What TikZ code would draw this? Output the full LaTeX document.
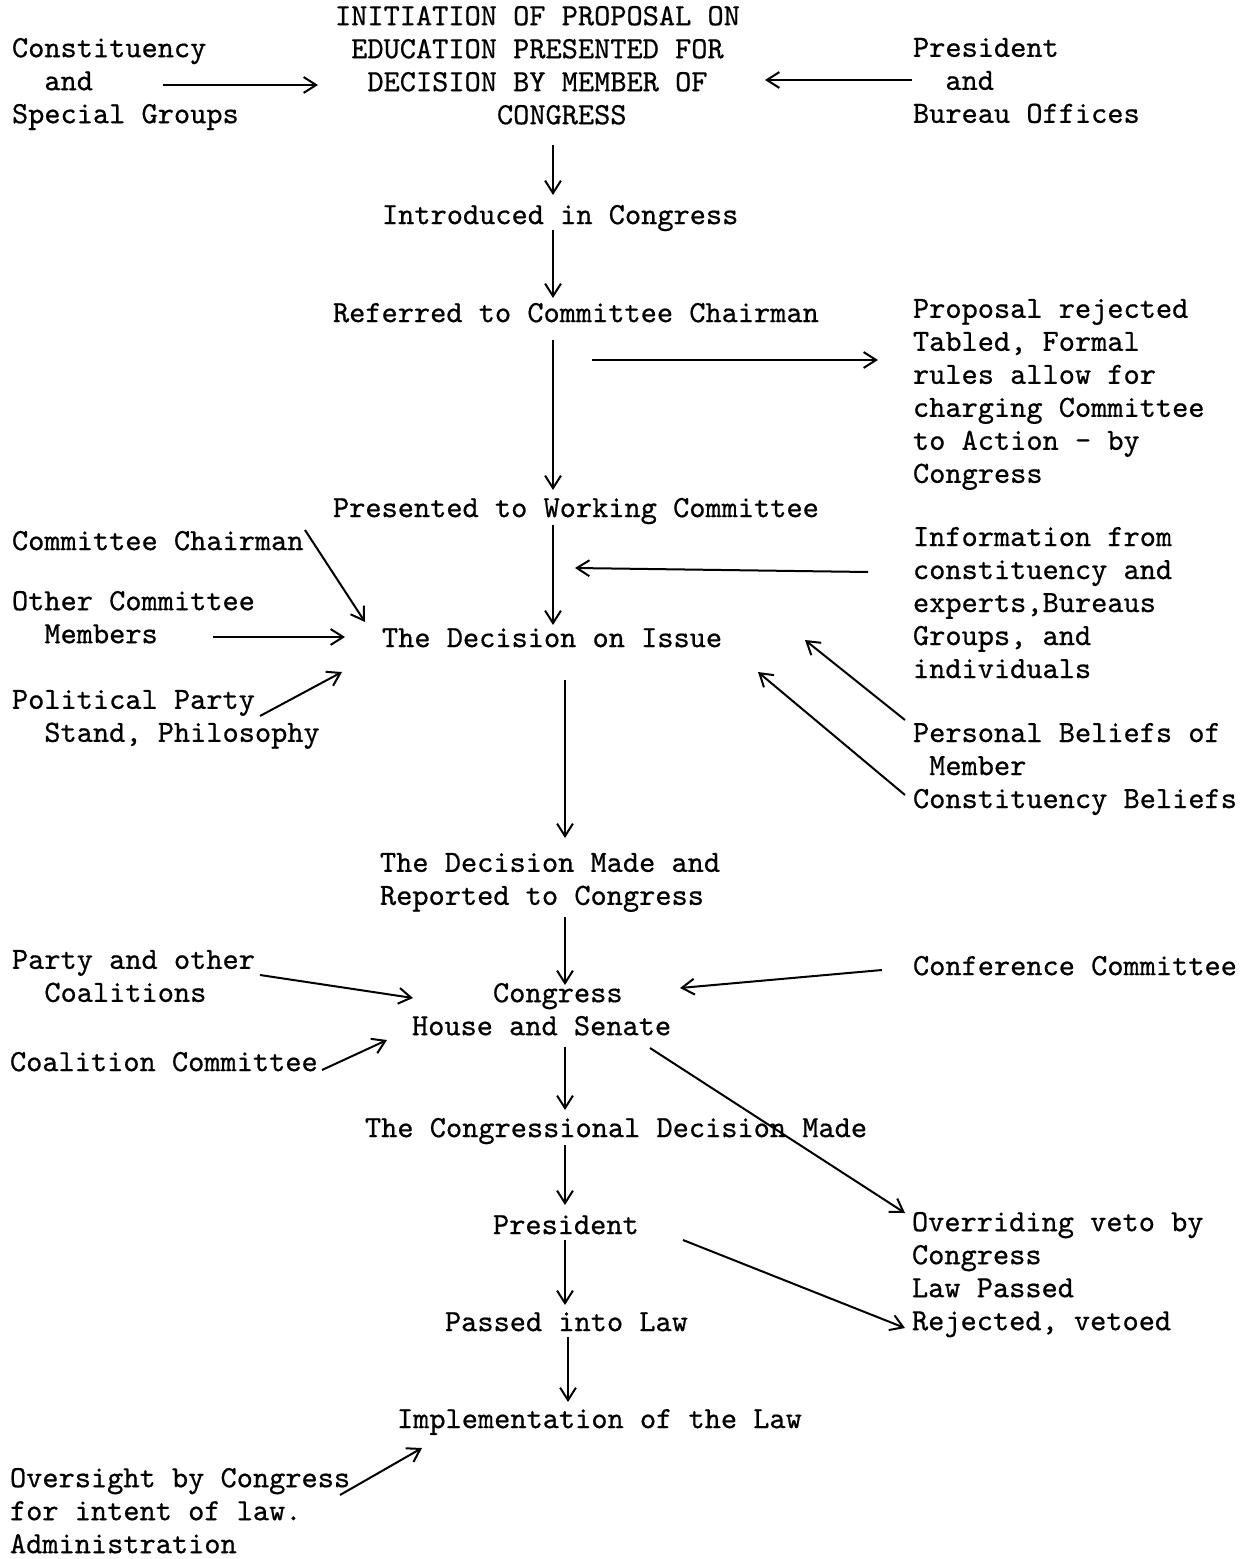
\documentclass[tikz,border=0pt]{standalone}
\usepackage{fontspec}
\usetikzlibrary{arrows.meta}
\newfontfamily\twf{lmmono10-regular.otf}[BoldFont=lmmono10-regular.otf, BoldFeatures={FakeBold=0.6}]
\newlength\cw
\setlength\cw{9.72pt}
\newcommand\ind[1]{\hspace*{#1\cw}}
\newcommand\tw{\twf\bfseries\fontsize{18.51}{19.8}\selectfont}
\begin{document}
\begin{tikzpicture}[x=0.6pt,y=-0.6pt,
  txt/.style={anchor=north west, inner sep=0pt, outer sep=0pt, align=left, font=\tw, yshift=8.4pt, execute at begin node=\strut},
  arr/.style={line width=1.2pt, -{Straight Barb[length=7.5pt,width=9.5pt,line width=1.2pt]}}]
\fill[white] (0,0) rectangle (1250,1559);
\useasboundingbox (0,0) rectangle (1250,1559);

% texts
\node[txt] (init) at (335,20) {INITIATION OF PROPOSAL ON\\\ind{1}EDUCATION PRESENTED FOR\\\ind{2}DECISION BY MEMBER OF\\\ind{10}CONGRESS};
\node[txt] (const) at (12,52) {Constituency\\\ind{2}and\\Special Groups};
\node[txt] (pres) at (913,52) {President\\\ind{2}and\\Bureau Offices};
\node[txt] (intro) at (382,215) {Introduced in Congress};
\node[txt] (refer) at (333,313) {Referred to Committee Chairman};
\node[txt] (rej) at (913,313) {Proposal rejected\\Tabled, Formal\\rules allow for\\charging Committee\\to Action - by\\Congress};
\node[txt] (work) at (333,508) {Presented to Working Committee};
\node[txt] (info) at (913,541) {Information from\\constituency and\\experts,Bureaus\\Groups, and\\individuals};
\node[txt] (chair) at (12,541) {Committee Chairman};
\node[txt] (other) at (12,605) {Other Committee\\\ind{2}Members};
\node[txt] (issue) at (382,638) {The Decision on Issue};
\node[txt] (party) at (12,704) {Political Party\\\ind{2}Stand, Philosophy};
\node[txt] (beliefs) at (913,737) {Personal Beliefs of\\\ind{1}Member\\Constituency Beliefs};
\node[txt] (made) at (380,867) {The Decision Made and\\Reported to Congress};
\node[txt] (coal) at (12,964) {Party and other\\\ind{2}Coalitions};
\node[txt] (conf) at (913,966) {Conference Committee};
\node[txt] (cong) at (412,997) {\ind{5}Congress\\House and Senate};
\node[txt] (ccom) at (10,1062) {Coalition Committee};
\node[txt] (cdec) at (365,1128) {The Congressional Decision Made};
\node[txt] (presd) at (493,1225) {President};
\node[txt] (veto) at (912,1226) {Overriding veto by\\Congress\\Law Passed\\Rejected, vetoed};
\node[txt] (law) at (445,1322) {Passed into Law};
\node[txt] (impl) at (397,1419) {Implementation of the Law};
\node[txt] (over) at (10,1482) {Oversight by Congress\\for intent of law.\\Administration};

% connector end points
\coordinate (a1s) at (163,85);  \coordinate (a1e) at (318,85);
\coordinate (a2s) at (912,80);  \coordinate (a2e) at (765,80);
\coordinate (a3s) at (553,145); \coordinate (a3e) at (553,195);
\coordinate (a4s) at (553,230); \coordinate (a4e) at (553,298);
\coordinate (a5s) at (553,340); \coordinate (a5e) at (553,490);
\coordinate (a6s) at (592,360); \coordinate (a6e) at (878,360);
\coordinate (a7s) at (553,525); \coordinate (a7e) at (553,625);
\coordinate (a8s) at (868,572); \coordinate (a8e) at (575,568);
\coordinate (a9s) at (305,530); \coordinate (a9e) at (365,622);
\coordinate (a10s) at (213,637); \coordinate (a10e) at (345,637);
\coordinate (a11s) at (260,716); \coordinate (a11e) at (342,672);
\coordinate (a12s) at (905,720); \coordinate (a12e) at (805,640);
\coordinate (a13s) at (905,795); \coordinate (a13e) at (758,672);
\coordinate (a14s) at (565,680); \coordinate (a14e) at (565,838);
\coordinate (a15s) at (565,917); \coordinate (a15e) at (565,985);
\coordinate (a16s) at (260,975); \coordinate (a16e) at (413,998);
\coordinate (a17s) at (322,1070); \coordinate (a17e) at (387,1040);
\coordinate (a18s) at (882,970); \coordinate (a18e) at (680,988);
\coordinate (a19s) at (565,1047); \coordinate (a19e) at (565,1110);
\coordinate (a20s) at (650,1048); \coordinate (a20e) at (905,1213);
\coordinate (a21s) at (565,1145); \coordinate (a21e) at (565,1205);
\coordinate (a22s) at (565,1240); \coordinate (a22e) at (565,1305);
\coordinate (a23s) at (683,1240); \coordinate (a23e) at (905,1328);
\coordinate (a24s) at (568,1337); \coordinate (a24e) at (568,1402);
\coordinate (a25s) at (340,1495); \coordinate (a25e) at (422,1448);

\foreach \i in {1,...,25} \draw[arr] (a\i s) -- (a\i e);
\end{tikzpicture}
\end{document}
